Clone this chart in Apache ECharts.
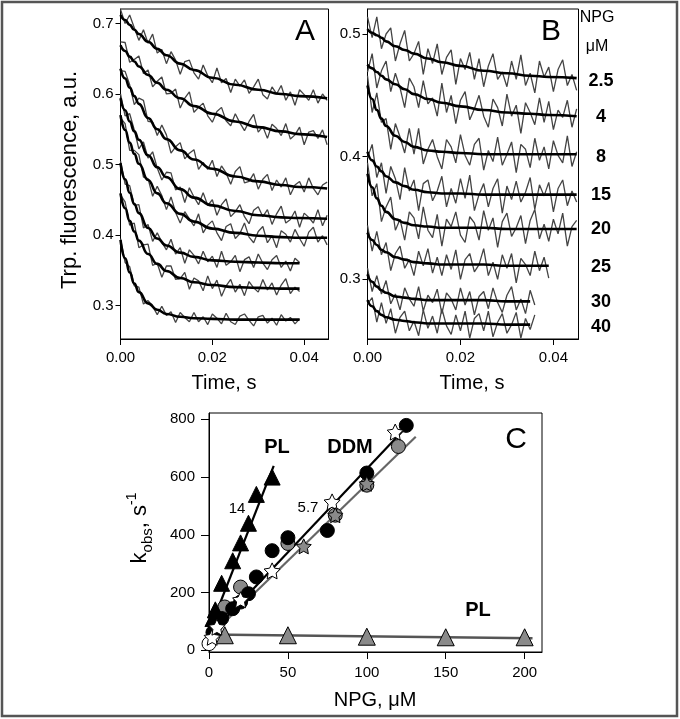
<!DOCTYPE html>
<html><head><meta charset="utf-8">
<script src="https://cdn.jsdelivr.net/npm/echarts@6/dist/echarts.min.js"></script>
<style>html,body{margin:0;padding:0;background:#fff}#c{width:680px;height:719px}</style>
</head><body><div id="c"></div>
<script>
// ---------- Panels A and B: stopped-flow traces (sampled every 1 ms) ----------
const TRACE_DT = 0.001;
const traceA1 = [.720,.700,.712,.694,.676,.691,.672,.685,.658,.663,.643,.660,.648,.628,.646,.648,.630,.621,.641,.626,.616,.637,.616,.622,.602,.621,.611,.620,.601,.610,.621,.599,.593,.610,.600,.612,.591,.603,.584,.606,.599,.591,.606,.587,.600,.591];
const traceA2 = [.674,.673,.645,.649,.654,.629,.634,.610,.618,.624,.600,.601,.607,.580,.594,.603,.574,.581,.587,.569,.560,.575,.581,.562,.555,.572,.559,.548,.561,.571,.546,.554,.537,.557,.551,.541,.558,.536,.542,.553,.528,.546,.548,.537,.549,.528];
const traceA3 = [.633,.632,.613,.585,.594,.591,.561,.560,.541,.556,.542,.516,.525,.531,.508,.516,.521,.493,.503,.493,.506,.483,.498,.488,.472,.490,.497,.474,.476,.487,.465,.479,.486,.463,.478,.468,.481,.457,.471,.476,.461,.481,.466,.457,.471,.475];
const traceA4 = [.600,.569,.572,.549,.522,.532,.509,.518,.495,.478,.489,.488,.464,.468,.446,.467,.454,.443,.460,.442,.450,.428,.443,.451,.426,.433,.443,.426,.416,.435,.440,.426,.436,.415,.430,.441,.417,.422,.434,.411,.431,.425,.417,.436,.413,.428];
const traceA5 = [.566,.558,.520,.520,.514,.482,.480,.455,.469,.456,.436,.454,.432,.417,.433,.423,.413,.430,.403,.414,.420,.403,.392,.412,.416,.395,.402,.417,.397,.389,.405,.412,.389,.399,.382,.406,.401,.390,.408,.395,.384,.404,.411,.390,.399,.386];
const traceA6 = [.505,.472,.470,.442,.443,.410,.415,.391,.403,.390,.379,.394,.373,.382,.360,.379,.371,.359,.377,.362,.370,.354,.377,.357,.362,.371,.348,.365,.369,.354,.373,.360,.351,.365,.371,.354,.363,.349,.367,.361];
const traceA7 = [.457,.447,.414,.417,.382,.386,.387,.357,.360,.340,.356,.356,.337,.338,.347,.323,.339,.335,.321,.342,.324,.336,.313,.328,.337,.319,.330,.314,.334,.325,.319,.337,.322,.332,.315,.329,.338,.317,.326,.320];
const traceA8 = [.395,.361,.355,.328,.326,.302,.307,.299,.287,.299,.286,.291,.276,.290,.283,.277,.290,.277,.284,.273,.288,.282,.274,.289,.277,.273,.285,.288,.279,.271,.284,.286,.275,.282,.272,.287,.278,.283,.274,.281];

const traceB1 = [.514,.497,.514,.488,.500,.505,.478,.492,.503,.478,.484,.494,.467,.488,.476,.492,.467,.481,.487,.459,.480,.471,.485,.463,.480,.457,.474,.484,.463,.469,.457,.478,.463,.483,.458,.468,.452,.478,.465,.473,.453,.471,.479,.458,.467,.454];
const traceB2 = [.469,.484,.456,.470,.478,.453,.468,.456,.440,.464,.457,.440,.462,.443,.448,.433,.460,.436,.450,.427,.446,.453,.430,.439,.450,.433,.424,.447,.440,.425,.451,.433,.442,.419,.444,.436,.426,.448,.428,.445,.422,.438,.432,.446,.424,.439];
const traceB3 = [.466,.436,.452,.428,.431,.406,.427,.416,.403,.423,.402,.423,.394,.406,.414,.400,.390,.414,.408,.395,.418,.401,.393,.410,.415,.389,.405,.396,.416,.393,.402,.412,.387,.410,.406,.391,.415,.397,.408,.390,.413,.401,.395,.417,.392,.404];
const traceB4 = [.399,.410,.383,.395,.370,.392,.382,.365,.391,.372,.381,.356,.378,.381,.364,.372,.384,.359,.374,.362,.382,.366,.385,.356,.369,.378,.359,.374,.382,.354,.376,.365,.380,.363,.371,.383,.357,.377,.368,.379,.355,.374,.381,.360,.372,.363];
const traceB5 = [.395,.368,.378,.347,.359,.367,.340,.349,.332,.355,.350,.333,.359,.340,.334,.353,.327,.349,.343,.355,.336,.330,.351,.346,.332,.356,.340,.350,.326,.347,.354,.335,.342,.352,.329,.348,.357,.333,.345,.331,.349,.337,.354,.327,.343,.348];
const traceB6 = [.344,.323,.339,.320,.330,.307,.321,.327,.309,.316,.303,.323,.311,.325,.305,.318,.303,.320,.308,.324,.300,.316,.321,.306,.312,.325,.303,.314,.300,.320,.309,.321,.297,.317,.312,.303,.323,.307,.318,.301];
const traceB7 = [.309,.290,.303,.288,.299,.280,.288,.275,.293,.284,.278,.294,.274,.287,.281,.292,.272,.289,.284,.275,.293,.279,.290,.271,.286,.290,.276,.293,.281,.273,.287,.294,.275,.284,.272,.291,.279];
const traceB8 = [.280,.285,.265,.281,.264,.276,.256,.269,.274,.258,.266,.254,.275,.260,.270,.256,.276,.262,.255,.271,.258,.274,.252,.268,.272,.258,.274,.253,.265,.272,.256,.263,.273,.252,.268,.259,.271];

// fitted curves, read at these times (s)
const FIT_T = [0,0.001,0.002,0.003,0.004,0.006,0.008,0.010,0.013,0.016,0.020,0.025,0.030,0.035,0.039,0.045];
const fitA1 = [0.712,0.705,0.698,0.691,0.685,0.674,0.664,0.655,0.643,0.634,0.623,0.613,0.606,0.600,0.597,0.594];
const fitA2 = [0.669,0.661,0.653,0.646,0.639,0.627,0.616,0.606,0.594,0.583,0.572,0.561,0.553,0.547,0.543,0.539];
const fitA3 = [0.636,0.622,0.609,0.597,0.586,0.566,0.550,0.536,0.520,0.507,0.494,0.483,0.476,0.471,0.468,0.466];
const fitA4 = [0.594,0.577,0.561,0.547,0.535,0.513,0.496,0.482,0.465,0.453,0.442,0.434,0.428,0.425,0.424,0.423];
const fitA5 = [0.570,0.549,0.531,0.515,0.501,0.478,0.459,0.445,0.430,0.419,0.409,0.403,0.399,0.397,0.396,0.396];
const fitA6 = [0.502,0.479,0.460,0.444,0.431,0.410,0.395,0.385,0.375,0.369,0.364,0.362,0.361,0.360,0.360];
const fitA7 = [0.459,0.438,0.420,0.405,0.392,0.373,0.359,0.349,0.339,0.333,0.329,0.326,0.325,0.324,0.324];
const fitA8 = [0.393,0.367,0.347,0.331,0.319,0.303,0.294,0.288,0.284,0.282,0.281,0.280,0.280,0.280,0.280];
const fitB1 = [0.504,0.501,0.499,0.497,0.494,0.490,0.487,0.484,0.480,0.477,0.474,0.470,0.468,0.466,0.465,0.464];
const fitB2 = [0.475,0.472,0.469,0.466,0.463,0.459,0.455,0.451,0.447,0.444,0.441,0.438,0.436,0.435,0.434,0.433];
const fitB3 = [0.458,0.447,0.438,0.431,0.425,0.417,0.412,0.408,0.405,0.404,0.403,0.402,0.402,0.402,0.402,0.402];
const fitB4 = [0.404,0.397,0.392,0.388,0.384,0.379,0.376,0.373,0.371,0.370,0.370,0.369,0.369,0.369,0.369,0.369];
const fitB5 = [0.386,0.375,0.366,0.360,0.355,0.349,0.346,0.344,0.343,0.342,0.342,0.342,0.341,0.341,0.341,0.341];
const fitB6 = [0.338,0.332,0.328,0.324,0.322,0.318,0.316,0.314,0.313,0.312,0.312,0.312,0.311,0.311,0.311];
const fitB7 = [0.304,0.298,0.294,0.291,0.289,0.286,0.285,0.284,0.283,0.283,0.283,0.283,0.282,0.282];
const fitB8 = [0.283,0.278,0.274,0.271,0.269,0.267,0.266,0.265,0.264,0.264,0.264,0.264,0.263,0.263];

const npgLabels = ['2.5','4','8','15','20','25','30','40'];

// ---------- Panel C: kobs vs NPG ----------
const plTriX = [2.5, 4, 8, 15, 20, 25, 30, 40];
const plTriY = [110, 140, 232, 310, 372, 440, 540, 600];
const plLine = [[0, 65], [41, 639]];
const plFlatX = [10, 50, 100, 150, 200];
const plFlatY = [52, 52, 47, 45, 45];
const plFlatLine = [[0, 55], [205, 42]];
const ddmBlackX = [2.5, 4, 5, 8, 15, 20, 25, 30, 40, 50, 75, 100, 125];
const ddmBlackY = [62, 85, 100, 110, 144, 167, 196, 254, 345, 390, 415, 614, 779];
const ddmGrayX = [5, 10, 20, 50, 80, 100, 120];
const ddmGrayY = [110, 150, 219, 370, 468, 572, 706];
const ddmOpenX = [0];
const ddmOpenY = [23];
const starOpenX = [2, 5, 20, 40, 78, 118];
const starOpenY = [45, 80, 175, 275, 514, 756];
const starGrayX = [60, 80, 100];
const starGrayY = [360, 468, 577];
const ddmBlackLine = [[0, 50], [127, 785]];
const ddmGrayLine = [[0, 45], [131, 740]];

const FONT = '"Liberation Sans", Arial, sans-serif';
const STAR = 'path://M12 2 L15.09 8.26 L22 9.27 L17 14.14 L18.18 21.02 L12 17.77 L5.82 21.02 L7 14.14 L2 9.27 L8.91 8.26 Z';

function traceSeries(vals, ai) {
  return { type: 'line', xAxisIndex: ai, yAxisIndex: ai, silent: true, animation: false,
    symbol: 'none', z: 2, clip: true,
    data: vals.map((v, i) => [+(i * TRACE_DT).toFixed(4), v]),
    lineStyle: { color: '#444', width: 1.3 } };
}
function fitSeries(vals, ai) {
  return { type: 'line', xAxisIndex: ai, yAxisIndex: ai, silent: true, animation: false,
    symbol: 'none', z: 3, smooth: true, smoothMonotone: 'x', clip: true,
    data: vals.map((v, i) => [FIT_T[i], v]),
    lineStyle: { color: '#000', width: 2.6 } };
}
function pts(xs, ys) { return xs.map((x, i) => [x, ys[i]]); }
function scat(xs, ys, symbol, size, fill, z) {
  return { type: 'scatter', xAxisIndex: 2, yAxisIndex: 2, silent: true, animation: false,
    symbol: symbol, symbolSize: size, z: z, clip: false, data: pts(xs, ys),
    itemStyle: { color: fill, borderColor: '#000', borderWidth: 1, opacity: 1 } };
}
function cline(data, color, w) {
  return { type: 'line', xAxisIndex: 2, yAxisIndex: 2, silent: true, animation: false,
    symbol: 'none', z: 3, data: data, lineStyle: { color: color, width: w } };
}

function valAxis(grid, min, max, ticks, fmt, margin, tickLen) {
  return { type: 'value', gridIndex: grid, min: min, max: max,
    axisLine: { show: true, onZero: false, lineStyle: { color: '#000', width: 1 } },
    axisTick: { show: true, inside: false, length: tickLen, customValues: ticks, lineStyle: { color: '#000', width: 1 } },
    axisLabel: { show: true, customValues: ticks, formatter: fmt, color: '#000', fontSize: 15, fontFamily: FONT, margin: margin },
    splitLine: { show: false } };
}

const series = [];
[traceA1, traceA2, traceA3, traceA4, traceA5, traceA6, traceA7, traceA8].forEach(t => series.push(traceSeries(t, 0)));
[fitA1, fitA2, fitA3, fitA4, fitA5, fitA6, fitA7, fitA8].forEach(f => series.push(fitSeries(f, 0)));
[traceB1, traceB2, traceB3, traceB4, traceB5, traceB6, traceB7, traceB8].forEach(t => series.push(traceSeries(t, 1)));
[fitB1, fitB2, fitB3, fitB4, fitB5, fitB6, fitB7, fitB8].forEach(f => series.push(fitSeries(f, 1)));

series.push(cline(plFlatLine, '#555', 2.5));
series.push(cline(ddmGrayLine, '#666', 2.2));
series.push(cline(ddmBlackLine, '#000', 2.2));
series.push(cline(plLine, '#000', 2.2));
series.push(scat(ddmOpenX, ddmOpenY, 'circle', 14, '#fff', 5));
series.push(scat(ddmGrayX, ddmGrayY, 'circle', 14, '#8a8a8a', 5));
series.push(scat(ddmBlackX, ddmBlackY, 'circle', 14, '#000', 6));
series.push(scat(starOpenX, starOpenY, STAR, 16, '#fff', 7));
series.push(scat(starGrayX, starGrayY, STAR, 15, '#8a8a8a', 7));
series.push(scat(plFlatX, plFlatY, 'triangle', 17, '#8a8a8a', 6));
series.push(scat(plTriX, plTriY, 'triangle', 16, '#000', 6));

function txt(x, y, text, size, weight, rot) {
  return { type: 'text', x: x, y: y, rotation: rot || 0, silent: true, z: 100,
    style: { text: text, font: (weight || 'normal') + ' ' + size + 'px ' + FONT, fill: '#000',
      textAlign: 'center', textVerticalAlign: 'middle', align: 'center', verticalAlign: 'middle' } };
}
const npgY = [81.5, 116.7, 156.7, 195, 229.3, 266.7, 301.7, 326.7];
const graphics = [
  { type: 'rect', silent: true, z: 100, shape: { x: 2, y: 2, width: 675, height: 714 },
    style: { fill: 'none', stroke: '#555', lineWidth: 2.5 } },
  txt(305, 32, 'A', 30), txt(551, 32, 'B', 30), txt(516, 440, 'C', 30),
  txt(597, 18, 'NPG', 16), txt(597, 47, 'μM', 16),
  txt(224, 383, 'Time, s', 20), txt(472, 383, 'Time, s', 20),
  txt(70, 180, 'Trp. fluorescence, a.u.', 22, 'normal', Math.PI / 2),
  txt(375, 700, 'NPG, μM', 20),
  txt(277, 447, 'PL', 20, 'bold'), txt(350, 447, 'DDM', 20, 'bold'), txt(478, 610, 'PL', 20, 'bold'),
  txt(237, 509, '14', 15), txt(308, 507.5, '5.7', 15),
  { type: 'text', x: 140, y: 528, rotation: Math.PI / 2, silent: true, z: 100,
    style: { text: '{k|k}{sub|obs}{n|, s}{sup|-1}', font: '22px ' + FONT, fill: '#000',
      textAlign: 'center', textVerticalAlign: 'middle', align: 'center', verticalAlign: 'middle',
      rich: {
        k: { fontSize: 22, fontFamily: FONT, lineHeight: 30, verticalAlign: 'middle', fill: '#000' },
        sub: { fontSize: 15, fontFamily: FONT, lineHeight: 15, verticalAlign: 'bottom', fill: '#000' },
        n: { fontSize: 22, fontFamily: FONT, lineHeight: 30, verticalAlign: 'middle', fill: '#000' },
        sup: { fontSize: 14, fontFamily: FONT, lineHeight: 14, verticalAlign: 'top', fill: '#000' }
      } } }
];
npgLabels.forEach((l, i) => graphics.push(txt(601, npgY[i], l, 18, 'bold')));

const chart = echarts.init(document.getElementById('c'), null, { renderer: 'canvas' });
chart.setOption({
  animation: false,
  backgroundColor: '#fff',
  grid: [
    { left: 120.5, top: 9, width: 208, height: 330, show: true, borderColor: '#000', borderWidth: 1, containLabel: false },
    { left: 367.5, top: 9, width: 211, height: 330, show: true, borderColor: '#000', borderWidth: 1, containLabel: false },
    { left: 209, top: 413, width: 333, height: 239, show: true, borderColor: '#000', borderWidth: 1, containLabel: false }
  ],
  xAxis: [
    valAxis(0, 0, 0.0453, [0, 0.02, 0.04], v => v.toFixed(2), 11, 6),
    valAxis(1, 0, 0.0454, [0, 0.02, 0.04], v => v.toFixed(2), 11, 6),
    valAxis(2, 0, 211, [0, 50, 100, 150, 200], v => String(v), 13, 7)
  ],
  yAxis: [
    valAxis(0, 0.2525, 0.7205, [0.3, 0.4, 0.5, 0.6, 0.7], v => v.toFixed(1), 7, 5),
    valAxis(1, 0.2513, 0.5204, [0.3, 0.4, 0.5], v => v.toFixed(1), 7, 5),
    valAxis(2, -6, 822, [0, 200, 400, 600, 800], v => String(v), 14, 8)
  ],
  series: series,
  graphic: graphics
});
</script>
</body></html>
